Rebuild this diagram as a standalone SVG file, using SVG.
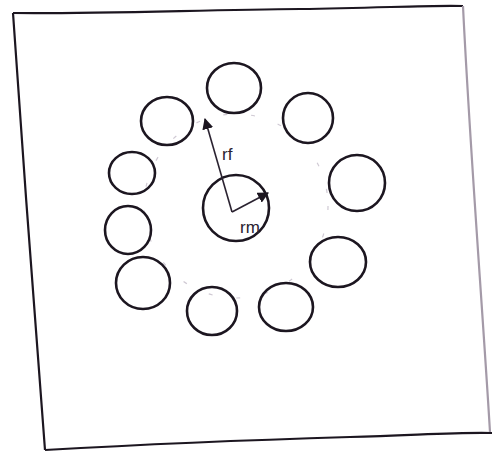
<svg xmlns="http://www.w3.org/2000/svg" width="498" height="452" viewBox="0 0 498 452">
<defs>
<style>
.c{fill:none;stroke:#1c1620;stroke-width:2.6}
.f{fill:none;stroke:#1c1620;stroke-width:2.2}
.r{fill:none;stroke:#a49aa8;stroke-width:2.2}
.d{fill:none;stroke:#d0cad4;stroke-width:1.2;stroke-dasharray:4 24}
.l{fill:none;stroke:#2a2230;stroke-width:1.6}
.t{font-family:"Liberation Sans",Arial,sans-serif;font-size:17px;fill:#2a2230}
</style>
<marker id="ah" viewBox="0 0 10 10" refX="9" refY="5" markerWidth="7" markerHeight="7" orient="auto-start-reverse">
<path d="M0,0 L10,5 L0,10 z" fill="#1c1620"/>
</marker>
</defs>
<rect width="498" height="452" fill="#ffffff"/>
<g id="frame">
<path class="f" d="M13,13 C90,14 200,10 300,9 C380,8 430,5 463,6"/>
<path class="f" d="M13,13 C22,150 36,330 45,450"/>
<path class="f" d="M45,450 C150,444 250,440 350,437 C420,435 460,432 492,433"/>
<path class="r" d="M463,6 C470,150 482,300 490,432"/>
</g>
<circle class="d" cx="236" cy="206" r="92"/>
<g id="fiber-top"><ellipse class="c" cx="234" cy="88" rx="27" ry="25"/></g>
<g id="fiber-upper-left"><ellipse class="c" cx="167" cy="121" rx="26" ry="24"/></g>
<g id="fiber-upper-right"><ellipse class="c" cx="308" cy="118" rx="25" ry="25"/></g>
<g id="fiber-left-2"><ellipse class="c" cx="132" cy="173" rx="23" ry="21"/></g>
<g id="fiber-right-2"><ellipse class="c" cx="357" cy="183" rx="28" ry="28"/></g>
<g id="fiber-left-3"><ellipse class="c" cx="128" cy="230" rx="23" ry="24"/></g>
<g id="fiber-right-3"><ellipse class="c" cx="338" cy="262" rx="28" ry="25"/></g>
<g id="fiber-lower-left"><ellipse class="c" cx="143" cy="283" rx="27" ry="26"/></g>
<g id="fiber-bottom"><ellipse class="c" cx="212" cy="311" rx="25" ry="24"/></g>
<g id="fiber-bottom-right"><ellipse class="c" cx="286" cy="307" rx="27" ry="24"/></g>
<g id="matrix-center"><ellipse class="c" cx="236" cy="208" rx="33" ry="33"/></g>
<g id="connectors">
<line class="l" x1="232" y1="212" x2="205" y2="119" marker-end="url(#ah)"/>
<line class="l" x1="232" y1="212" x2="268" y2="193" marker-end="url(#ah)"/>
</g>
<g id="labels">
<text class="t" x="222" y="160">rf</text>
<text class="t" x="240" y="233">rm</text>
</g>
</svg>
